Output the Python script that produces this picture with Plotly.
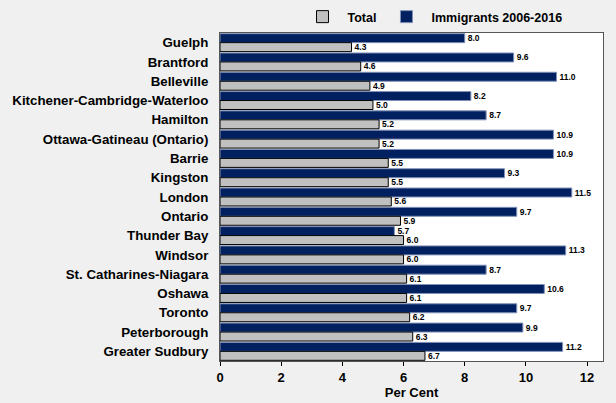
import plotly.graph_objects as go

regions = [
    "Guelph", "Brantford", "Belleville", "Kitchener-Cambridge-Waterloo",
    "Hamilton", "Ottawa-Gatineau (Ontario)", "Barrie", "Kingston", "London",
    "Ontario", "Thunder Bay", "Windsor", "St. Catharines-Niagara", "Oshawa",
    "Toronto", "Peterborough", "Greater Sudbury",
]
total = [4.3, 4.6, 4.9, 5.0, 5.2, 5.2, 5.5, 5.5, 5.6, 5.9, 6.0, 6.0, 6.1, 6.1, 6.2, 6.3, 6.7]
immigrants = [8.0, 9.6, 11.0, 8.2, 8.7, 10.9, 10.9, 9.3, 11.5, 9.7, 5.7, 11.3, 8.7, 10.6, 9.7, 9.9, 11.2]
x_ticks = [0, 2, 4, 6, 8, 10, 12]

FONT = "Liberation Sans, Arial, sans-serif"
label_font = dict(size=8.5, color="#000000", family=FONT, weight="bold")

fig = go.Figure()
fig.add_trace(go.Bar(
    y=regions, x=immigrants, orientation="h", name="Immigrants 2006-2016",
    marker=dict(color="#002060", line=dict(color="#8090b8", width=1)),
    text=[f"{v:.1f}" for v in immigrants], textposition="outside",
    textfont=label_font, cliponaxis=False, legendrank=2,
))
fig.add_trace(go.Bar(
    y=regions, x=total, orientation="h", name="Total",
    marker=dict(color="#c0c0c0", line=dict(color="#000000", width=1)),
    text=[f"{v:.1f}" for v in total], textposition="outside",
    textfont=label_font, cliponaxis=False, legendrank=1,
))

fig.update_layout(
    width=616, height=403,
    margin=dict(l=220, r=13, t=33, b=42, autoexpand=False),
    paper_bgcolor="#f0f0f0", plot_bgcolor="#ffffff",
    barmode="group", bargap=0.07, bargroupgap=0,
    font=dict(family=FONT, size=13, color="#000000", weight="bold"),
    showlegend=True,
    legend=dict(orientation="h", xref="container", yref="container",
                x=0.483, y=0.995, xanchor="left", yanchor="top",
                font=dict(size=12.5, weight="bold"), bgcolor="rgba(0,0,0,0)",
                itemwidth=40, traceorder="normal"),
    uniformtext=dict(minsize=8, mode="show"),
)
fig.update_xaxes(
    range=[0, 12.52], tickvals=x_ticks, showgrid=False, zeroline=False,
    ticks="outside", ticklen=4, tickcolor="#000000", automargin=False,
    showline=True, linecolor="#555555", linewidth=1, mirror=True,
    title=dict(text="Per Cent", font=dict(size=13, weight="bold"), standoff=4),
    tickfont=dict(size=13, weight="bold"),
)
fig.update_yaxes(
    autorange="reversed", showgrid=False, ticks="", ticklen=0, automargin=False,
    showline=True, linecolor="#555555", linewidth=1, mirror=True,
    tickfont=dict(size=13.3, weight="bold"), ticklabelstandoff=8,
)

fig.write_html("out.html")
